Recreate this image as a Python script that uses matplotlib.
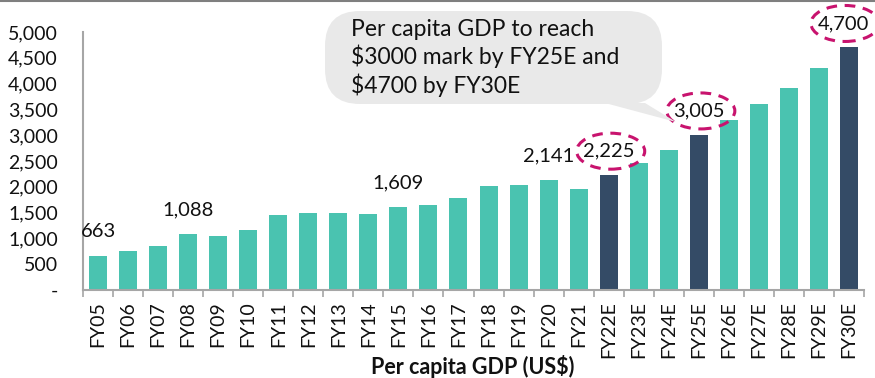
import matplotlib.pyplot as plt
from matplotlib.patches import FancyBboxPatch, Polygon, Ellipse
from matplotlib.lines import Line2D
from matplotlib.ticker import FuncFormatter

plt.rcParams['font.family'] = ['Lato', 'DejaVu Sans']

# Per capita GDP, FY05 to FY30E (US$)
years = ['FY05', 'FY06', 'FY07', 'FY08', 'FY09', 'FY10', 'FY11', 'FY12', 'FY13',
         'FY14', 'FY15', 'FY16', 'FY17', 'FY18', 'FY19', 'FY20', 'FY21', 'FY22E',
         'FY23E', 'FY24E', 'FY25E', 'FY26E', 'FY27E', 'FY28E', 'FY29E', 'FY30E']
gdp = [663, 750, 850, 1088, 1055, 1165, 1445, 1500, 1485, 1480, 1609, 1645, 1775,
       2010, 2035, 2141, 1965, 2225, 2455, 2720, 3005, 3290, 3600, 3920, 4300, 4700]
highlight = ['FY22E', 'FY25E', 'FY30E']
labelled = ['FY05', 'FY08', 'FY15', 'FY20', 'FY22E', 'FY25E', 'FY30E']
circled = ['FY22E', 'FY25E', 'FY30E']
note = 'Per capita GDP to reach\n$3000 mark by FY25E and\n$4700 by FY30E'

teal = '#4AC3B0'
navy = '#344B66'
pink = '#C8136E'
grey = '#A6A6A6'

W, H = 875, 378
fig = plt.figure(figsize=(W / 100, H / 100), dpi=100)
ax = fig.add_axes([83 / W, 1 - 290 / H, 781 / W, 258 / H])

def fx(px):
    return px / W

def fy(py):
    return 1 - py / H

x = range(len(years))
colors = [navy if y in highlight else teal for y in years]
ax.bar(x, gdp, width=0.6, color=colors, zorder=2)

ax.set_xlim(-0.5, len(years) - 0.5)
ax.set_ylim(0, 5000)
ax.set_yticks(range(0, 5001, 500))
ax.yaxis.set_major_formatter(FuncFormatter(lambda v, p: '-' if v == 0 else f'{int(v):,}'))
ax.set_xticks(list(x))
ax.set_xticklabels(years, rotation=90)
ax.set_xticks([i - 0.5 for i in range(len(years) + 1)], minor=True)
ax.tick_params(axis='x', which='major', length=0, pad=8, labelsize=14, colors='#111111')
ax.tick_params(axis='x', which='minor', length=5, width=1.2, color=grey)
ax.tick_params(axis='y', length=0, pad=18, labelsize=14, colors='#111111')
for lab in ax.get_yticklabels():
    lab.set_horizontalalignment('right')

for s in ['top', 'right']:
    ax.spines[s].set_visible(False)
for s in ['left', 'bottom']:
    ax.spines[s].set_color(grey)
    ax.spines[s].set_linewidth(1.5)

# axis title sits low, beside the long rotated labels
fig.text(fx(473), fy(366), 'Per capita GDP (US$)', fontsize=15.5, fontweight='bold',
         ha='center', va='center', color='#111111')

# pixel sizes -> data units, for the label offset and the rings
px_x = 1 / 30.0          # one pixel along x, in bar slots
px_y = 5000 / 258.0      # one pixel along y, in US$

# value labels, some ringed with a dashed ellipse
for i, (yr, v) in enumerate(zip(years, gdp)):
    if yr not in labelled:
        continue
    dx = -6 if i == len(years) - 1 else 0
    cx = i + dx * px_x
    cy = v + 24 * px_y
    ax.text(cx, cy, f'{v:,}', ha='center', va='center', fontsize=14.5,
            color='#111111', clip_on=False)
    if yr in circled:
        ring = Ellipse((cx + 2 * px_x, cy), 68 * px_x, 36 * px_y, fc='none',
                       ec=pink, lw=2.2, ls=(0, (3.5, 2.5)), clip_on=False, zorder=3)
        ax.add_patch(ring)

# speech bubble
bubble = FancyBboxPatch((fx(325), fy(104)), fx(662) - fx(325), fy(11) - fy(104),
                        boxstyle='round,pad=0,rounding_size=0.04',
                        transform=fig.transFigure, fc='#E9E9E9', ec='none',
                        mutation_aspect=W / H)
fig.add_artist(bubble)
tail = Polygon([(fx(605), fy(103)), (fx(645), fy(103)), (fx(676), fy(122))],
               closed=True, transform=fig.transFigure, fc='#E9E9E9', ec='none')
fig.add_artist(tail)
fig.text(fx(351), fy(19), note, fontsize=16.5, va='top', ha='left',
         color='#111111', linespacing=1.25)

# thin rule along the top
fig.add_artist(Line2D([0, 1], [fy(1), fy(1)], transform=fig.transFigure,
                      color='#7F7F7F', lw=1.5))

fig.savefig('out.png', dpi=100)
